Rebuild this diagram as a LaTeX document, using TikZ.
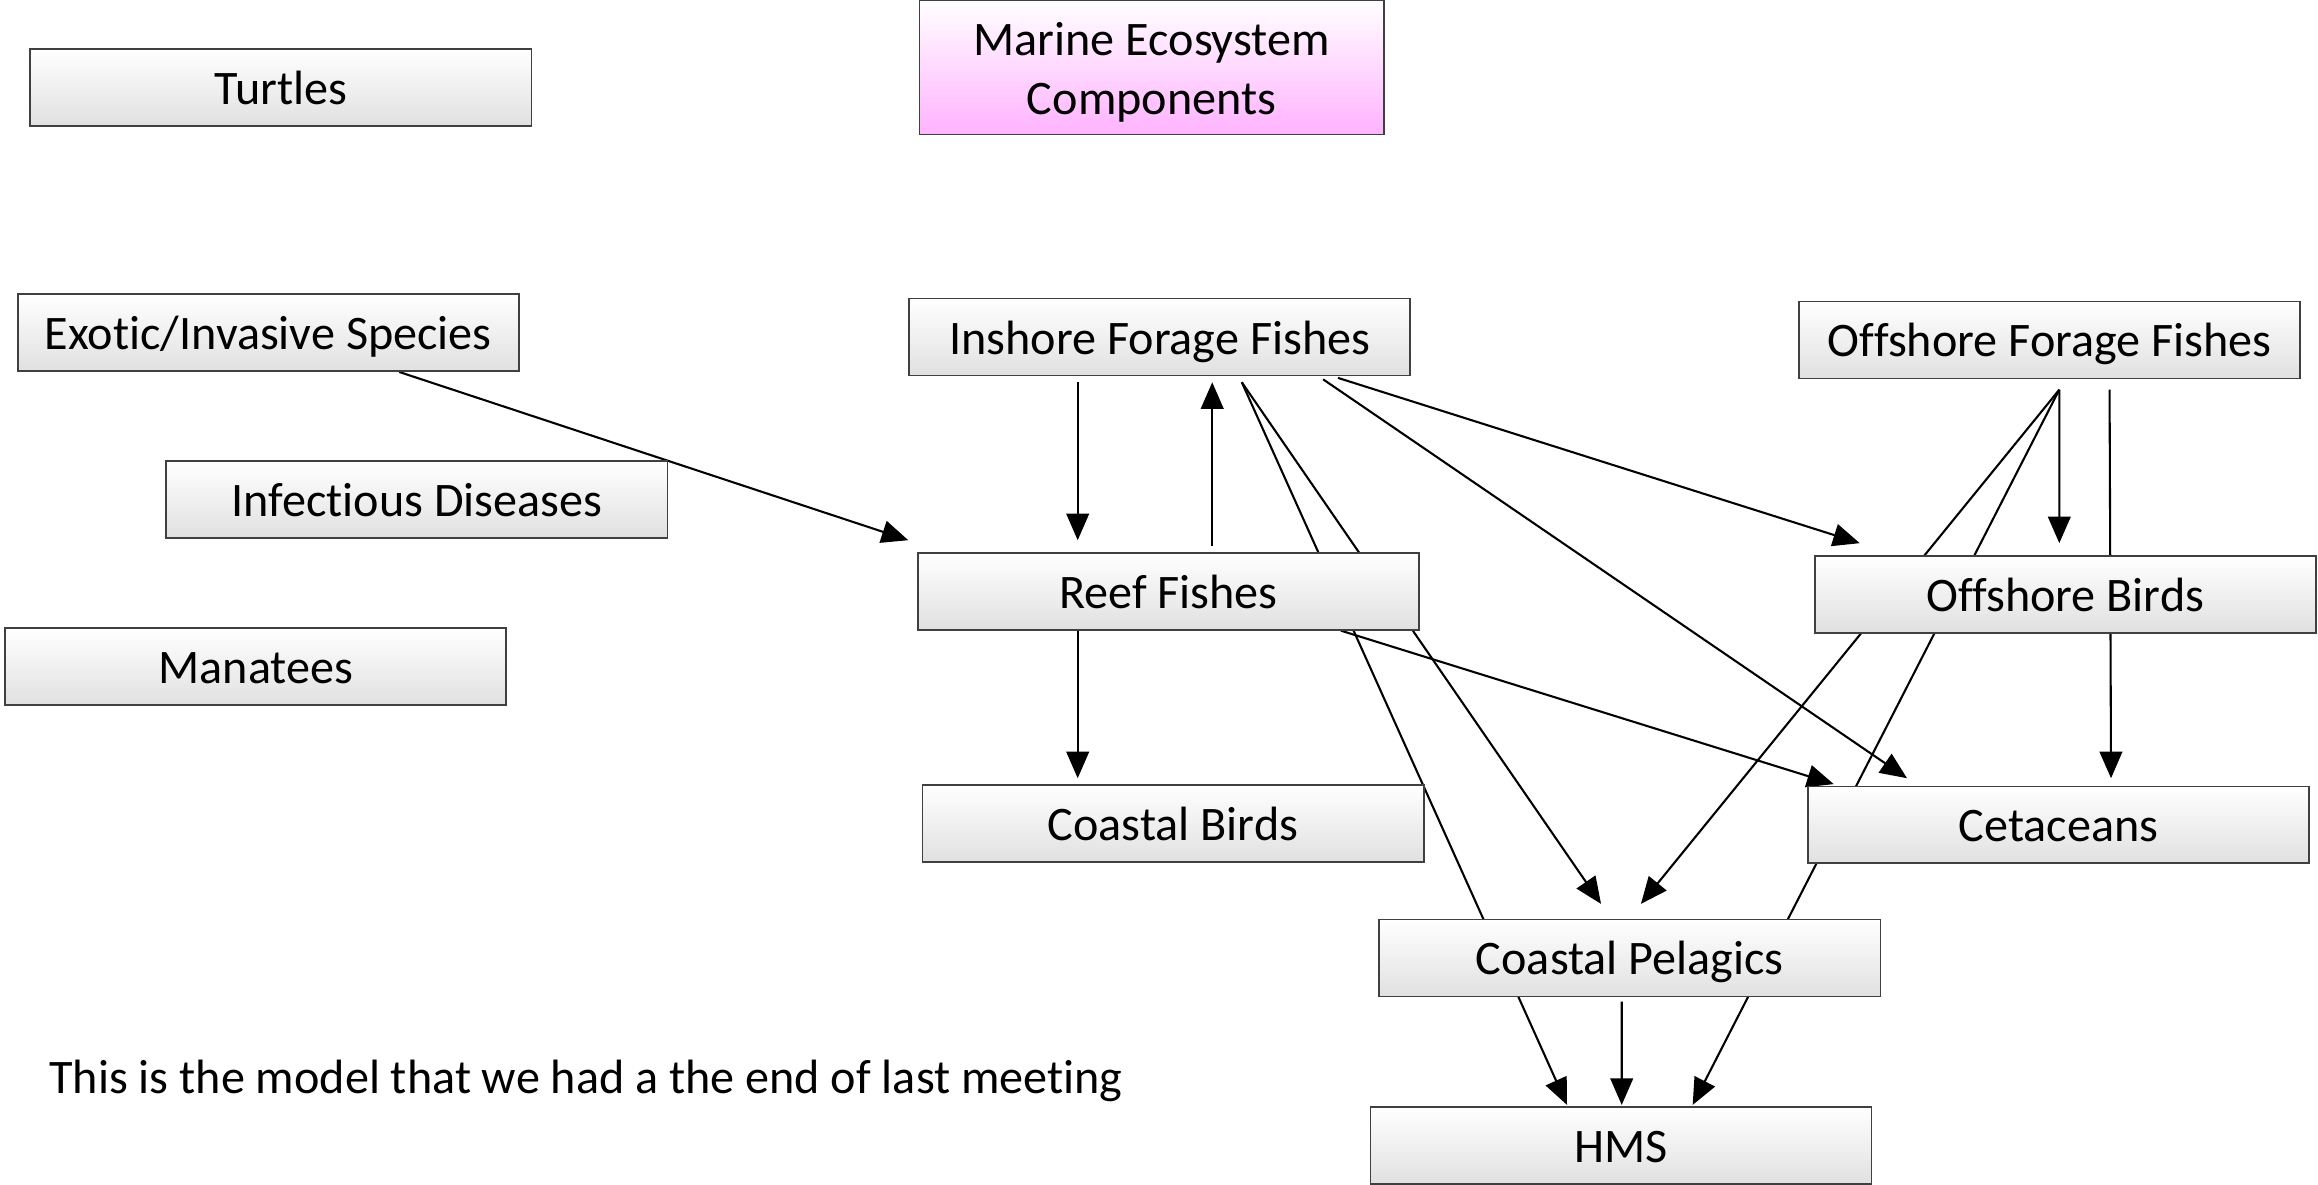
\documentclass[tikz,border=0pt]{standalone}
\usepackage{fontspec}
\setmainfont{Carlito}[Ligatures=NoCommon]
\usepackage{tikz}
\usetikzlibrary{arrows.meta, calc}
\pgfdeclarelayer{background}
\pgfsetlayers{background,main}
\tikzstyle{component} = [rectangle, minimum width=5.085cm, minimum height=0.78cm, inner sep=0pt, text centered, text height=9.8pt, text depth=0pt, draw=black!75, line width=0.5pt, top color=white, bottom color=black!12, font=\fontsize{13.9}{17}\selectfont]
\tikzstyle{heading} = [rectangle, minimum width=4.71cm, minimum height=1.365cm, inner sep=0pt, align=center, draw=black!75, line width=0.5pt, top color=white, bottom color=magenta!30, font=\fontsize{13.9}{17}\selectfont]
\tikzstyle{arrow} = [line width=0.6pt, -{Triangle[length=0.27cm, width=0.23cm]}]

\begin{document}
\begin{tikzpicture}[x=0.015cm, y=-0.015cm]
    \useasboundingbox (0,0) rectangle (1568,801);

    \node (turtles) [component] at (190,59) {Turtles};
    \node (marine) [heading] at (779,45.5) {\rule{0pt}{12.3pt}Marine Ecosystem\\Components};
    \node (exotic) [component] at (181.5,225) {Exotic/Invasive Species};
    \node (inshore) [component] at (784.5,228) {Inshore Forage Fishes};
    \node (offfish) [component] at (1386.5,230) {Offshore Forage Fishes};
    \node (infect) [component] at (282,338) {Infectious Diseases};
    \node (reef) [component] at (790.5,400) {Reef Fishes};
    \node (offbird) [component] at (1397,402) {Offshore Birds};
    \node (manatee) [component] at (173,451) {Manatees};
    \node (cbirds) [component] at (793.5,557) {Coastal Birds};
    \node (cetac) [component] at (1392.5,558) {Cetaceans};
    \node (cpel) [component] at (1102.5,648) {Coastal Pelagics};
    \node (hms) [component] at (1096.5,775) {HMS};
    \node (note) [anchor=west, inner sep=0pt, text height=9.8pt, text depth=0pt, font=\fontsize{13.9}{17}\selectfont] at (33,728) {This is the model that we had a the end of last meeting};

    \begin{pgfonlayer}{background}
    \draw [arrow] ($(exotic.south)+(88.5,0)$) -- ($(reef.north west)+(-6,-8)$);
    \draw [arrow] ($(inshore.south)+(-55.5,4)$) -- ($(reef.north)+(-61.5,-8)$);
    \draw [arrow] ($(reef.north)+(29.5,-4)$) -- ($(inshore.south)+(35.5,4)$);
    \draw [arrow] ($(inshore.south)+(55.5,4)$) -- ($(hms.north)+(-36.5,-1)$);
    \draw [arrow] ($(inshore.south)+(55.5,4)$) -- ($(cpel.north)+(-19.5,-10)$);
    \draw [arrow] ($(inshore.south)+(110.5,2)$) -- ($(cetac.north)+(-102.5,-5)$);
    \draw [arrow] ($(inshore.south)+(120.5,1)$) -- ($(offbird.north)+(-139,-8)$);
    \draw [arrow] ($(reef.south)+(-61.5,0)$) -- ($(cbirds.north)+(-64.5,-4)$);
    \draw [arrow] ($(reef.south)+(116.5,0)$) -- ($(cetac.north west)+(18,-1)$);
    \draw [arrow] ($(offfish.south)+(6.5,7)$) -- ($(offbird.north)+(-4,-8)$);
    \draw [arrow] ($(offfish.south)+(6.5,7)$) -- ($(cpel.north)+(7.5,-10)$);
    \draw [arrow] ($(offfish.south)+(6.5,7)$) -- ($(hms.north)+(48.5,-1)$);
    \draw [arrow] ($(offfish.south)+(40.5,7)$) -- ($(cetac.north)+(35.5,-5)$);
    \draw [arrow] ($(cpel.south)+(-5.5,3)$) -- ($(hms.north)+(0.5,-1)$);
    \end{pgfonlayer}
\end{tikzpicture}
\end{document}
